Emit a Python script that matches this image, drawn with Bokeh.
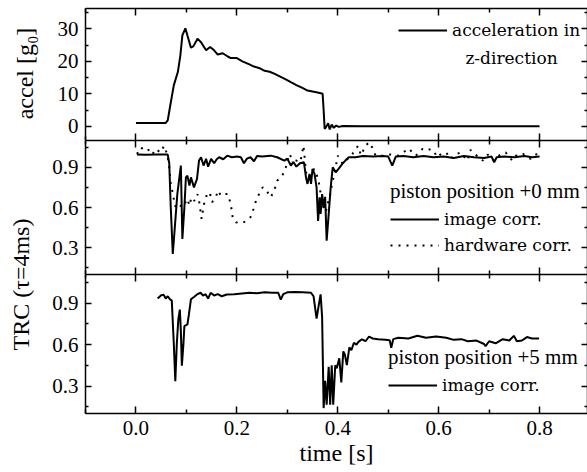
import math
from bokeh.plotting import figure
from bokeh.models import (FixedTicker, LinearAxis, Legend, LegendItem, Label,
                          PrintfTickFormatter, Range1d, CustomLabelingPolicy)
from bokeh.layouts import row, column
from bokeh.embed import file_html
from bokeh.resources import INLINE

FONT = "Liberation Serif"
PFONT = "serif"
LFONT = "DejaVu Serif"
LSIZE = "17px"

# ---------------- ticks ----------------
x_major = [0.0, 0.2, 0.4, 0.6, 0.8]
x_minor = [-0.1, 0.1, 0.3, 0.5, 0.7, 0.9]
acc_major = [0, 10, 20, 30]
acc_minor = [-5, 5, 15, 25, 35]
trc_major = [0.3, 0.6, 0.9]
trc_minor = [0.15, 0.45, 0.75, 1.05]

# ---------------- acceleration (panel 1) ----------------
t_acc = [0.000, 0.030, 0.059, 0.063, 0.068, 0.075, 0.083, 0.088, 0.092, 0.098,
         0.102, 0.109, 0.114, 0.122, 0.129, 0.139, 0.147, 0.155, 0.162, 0.172,
         0.182, 0.188, 0.200, 0.211, 0.226, 0.234, 0.245, 0.255, 0.265, 0.274,
         0.285, 0.295, 0.307, 0.318, 0.330, 0.340, 0.350, 0.360, 0.370, 0.372,
         0.374, 0.377, 0.381, 0.384, 0.388, 0.392, 0.397, 0.402, 0.410, 0.450,
         0.500, 0.600, 0.700, 0.800]
acc = [1.0, 1.0, 1.0, 1.8, 6.4, 12.6, 16.7, 21.8, 28.0, 30.2,
       28.0, 24.2, 24.7, 27.0, 25.9, 23.4, 24.4, 23.4, 22.1, 22.5,
       21.5, 21.0, 21.0, 20.0, 19.0, 18.4, 17.9, 17.1, 16.8, 16.2,
       15.4, 14.6, 13.6, 12.7, 11.8, 11.0, 10.7, 10.4, 10.0, 5.0,
       -0.8, -0.2, 0.9, -1.0, 0.5, -0.5, 0.2, -0.2, 0.1, 0.0,
       0.0, 0.0, 0.0, 0.0]

# ---------------- TRC, piston +0 mm (panel 2) ----------------
t_img0 = [0.002, 0.020, 0.040, 0.063, 0.066, 0.069, 0.073, 0.077, 0.082, 0.089,
          0.092, 0.096, 0.099, 0.102, 0.106, 0.109, 0.115, 0.121, 0.125, 0.129,
          0.134, 0.139, 0.143, 0.149, 0.155, 0.160, 0.165, 0.173, 0.181, 0.190,
          0.200, 0.208, 0.214, 0.220, 0.227, 0.234, 0.240, 0.250, 0.267, 0.280,
          0.294, 0.300, 0.307, 0.312, 0.318, 0.325, 0.333, 0.337, 0.340, 0.344,
          0.347, 0.350, 0.354, 0.358, 0.361, 0.364, 0.366, 0.369, 0.372, 0.375,
          0.378, 0.382, 0.386, 0.390, 0.396, 0.402, 0.409, 0.415, 0.422, 0.435,
          0.450, 0.470, 0.490, 0.500, 0.508, 0.515, 0.530, 0.550, 0.570, 0.590,
          0.610, 0.630, 0.650, 0.670, 0.690, 0.705, 0.710, 0.715, 0.730, 0.750,
          0.770, 0.785, 0.800]
trc_img0 = [0.995, 0.993, 0.996, 0.995, 0.930, 0.600, 0.254, 0.450, 0.700, 0.913,
            0.366, 0.600, 0.825, 0.838, 0.763, 0.825, 0.750, 0.813, 0.950, 0.975,
            0.913, 0.963, 0.905, 0.963, 0.930, 0.960, 0.975, 0.960, 0.987, 0.975,
            0.980, 0.975, 0.930, 0.965, 0.975, 0.945, 0.985, 0.980, 0.987, 0.975,
            0.950, 0.965, 0.913, 0.940, 0.905, 0.930, 0.937, 0.825, 0.776, 0.850,
            0.776, 0.888, 0.850, 0.750, 0.500, 0.676, 0.552, 0.700, 0.600, 0.680,
            0.353, 0.550, 0.750, 0.900, 0.863, 0.890, 0.925, 0.950, 0.975, 0.975,
            0.985, 0.980, 0.985, 0.980, 0.913, 0.980, 0.985, 0.975, 0.985, 0.975,
            0.980, 0.970, 0.985, 0.975, 0.970, 0.980, 0.937, 0.975, 0.980, 0.975,
            0.985, 0.975, 0.980]

t_hw0 = [0.002, 0.010, 0.018, 0.025, 0.032, 0.040, 0.048, 0.056, 0.062, 0.066,
         0.069, 0.072, 0.075, 0.077, 0.082, 0.086, 0.092, 0.097, 0.102, 0.106,
         0.110, 0.116, 0.122, 0.126, 0.130, 0.135, 0.141, 0.146, 0.151, 0.158,
         0.163, 0.168, 0.175, 0.182, 0.187, 0.190, 0.192, 0.198, 0.208, 0.218,
         0.228, 0.233, 0.238, 0.244, 0.251, 0.257, 0.261, 0.267, 0.274, 0.280,
         0.287, 0.294, 0.300, 0.304, 0.310, 0.318, 0.326, 0.332, 0.335, 0.337,
         0.343, 0.348, 0.353, 0.358, 0.363, 0.368, 0.372, 0.376, 0.381, 0.385,
         0.390, 0.394, 0.400, 0.404, 0.410, 0.416, 0.422, 0.429, 0.436, 0.440,
         0.446, 0.455, 0.462, 0.468, 0.475, 0.490, 0.505, 0.520, 0.535, 0.541,
         0.548, 0.555, 0.568, 0.575, 0.585, 0.592, 0.597, 0.605, 0.615, 0.624,
         0.633, 0.643, 0.657, 0.663, 0.673, 0.687, 0.697, 0.710, 0.723, 0.733,
         0.746, 0.755, 0.767, 0.782, 0.790, 0.799]
trc_hw0 = [1.000, 1.049, 1.020, 1.030, 0.995, 1.037, 1.010, 1.060, 0.995, 0.900,
           0.776, 0.726, 0.664, 0.614, 0.600, 0.589, 0.639, 0.630, 0.664, 0.614,
           0.676, 0.650, 0.700, 0.630, 0.515, 0.627, 0.700, 0.713, 0.640, 0.676,
           0.726, 0.689, 0.700, 0.700, 0.639, 0.577, 0.515, 0.490, 0.482, 0.497,
           0.532, 0.589, 0.651, 0.700, 0.750, 0.739, 0.713, 0.676, 0.726, 0.800,
           0.825, 0.863, 0.937, 1.000, 0.960, 0.950, 0.940, 1.062, 0.950, 0.863,
           0.820, 0.850, 0.888, 0.850, 0.776, 0.660, 0.600, 0.564, 0.639, 0.700,
           0.800, 0.863, 0.987, 0.960, 0.925, 0.945, 0.975, 1.000, 1.037, 1.060,
           0.990, 1.060, 1.087, 1.050, 0.987, 0.987, 0.995, 0.987, 1.025, 1.040,
           1.010, 0.987, 1.037, 1.025, 1.037, 1.010, 0.975, 1.000, 1.010, 0.963,
           0.995, 1.010, 0.950, 1.030, 0.995, 0.950, 0.995, 0.950, 1.000, 1.010,
           0.950, 0.995, 1.000, 0.963, 0.995, 1.000]

# ---------------- TRC, piston +5 mm (panel 3) ----------------
t_img5 = [0.043, 0.050, 0.055, 0.059, 0.063, 0.068, 0.071, 0.075, 0.078, 0.081,
          0.084, 0.087, 0.089, 0.091, 0.094, 0.096, 0.102, 0.105, 0.109, 0.115,
          0.121, 0.128, 0.133, 0.138, 0.143, 0.148, 0.155, 0.162, 0.170, 0.180,
          0.195, 0.210, 0.225, 0.240, 0.255, 0.270, 0.282, 0.287, 0.292, 0.300,
          0.315, 0.330, 0.347, 0.352, 0.358, 0.363, 0.366, 0.369, 0.372, 0.375,
          0.378, 0.382, 0.385, 0.388, 0.391, 0.395, 0.398, 0.403, 0.407, 0.411,
          0.414, 0.418, 0.423, 0.427, 0.432, 0.437, 0.441, 0.448, 0.455, 0.462,
          0.469, 0.480, 0.495, 0.503, 0.506, 0.510, 0.520, 0.540, 0.558, 0.575,
          0.595, 0.615, 0.630, 0.645, 0.658, 0.675, 0.690, 0.693, 0.700, 0.713,
          0.727, 0.740, 0.749, 0.755, 0.765, 0.775, 0.785, 0.799]
trc_img5 = [0.933, 0.957, 0.960, 0.933, 0.950, 0.925, 0.920, 0.609, 0.336, 0.609,
            0.784, 0.853, 0.700, 0.448, 0.600, 0.734, 0.746, 0.820, 0.928, 0.945,
            0.963, 0.975, 0.955, 0.965, 0.933, 0.975, 0.955, 0.965, 0.950, 0.963,
            0.965, 0.970, 0.975, 0.972, 0.978, 0.975, 0.975, 0.925, 0.965, 0.978,
            0.980, 0.978, 0.975, 0.950, 0.788, 0.900, 0.963, 0.800, 0.142, 0.340,
            0.166, 0.440, 0.166, 0.452, 0.166, 0.452, 0.430, 0.502, 0.328, 0.552,
            0.530, 0.452, 0.580, 0.560, 0.614, 0.600, 0.620, 0.639, 0.625, 0.659,
            0.645, 0.640, 0.635, 0.632, 0.577, 0.640, 0.650, 0.645, 0.664, 0.650,
            0.660, 0.650, 0.635, 0.640, 0.625, 0.630, 0.605, 0.590, 0.625, 0.610,
            0.640, 0.630, 0.664, 0.625, 0.630, 0.655, 0.645, 0.644]

# ---------------- layout geometry ----------------
LBL_W = 48
W = 539
LEFT = 37
TOP = 8
X_RANGE = Range1d(-0.1, 0.895)

AX_STYLE = dict(axis_line_width=1.5, axis_line_color="black",
                major_tick_line_width=1.5, minor_tick_line_width=1.5,
                major_tick_line_color="black", minor_tick_line_color="black",
                major_tick_out=0, minor_tick_out=0)

HIDE_LABELS = "for (const i of indices) { indices.unset(i) }\nreturn indices"


def make_axis(ticks, minor, labels, tick_in, minor_in, fmt="%.1f"):
    ax = LinearAxis(ticker=FixedTicker(ticks=ticks, minor_ticks=minor),
                    major_tick_in=tick_in, minor_tick_in=minor_in, **AX_STYLE)
    ax.formatter = PrintfTickFormatter(format=fmt)
    ax.major_label_text_font = PFONT
    ax.major_label_text_color = "black"
    if labels:
        ax.major_label_text_font_size = "21px"
        ax.major_label_standoff = 7
    else:
        ax.major_label_text_font_size = "0px"
        ax.major_label_standoff = 0
        ax.major_label_policy = CustomLabelingPolicy(code=HIDE_LABELS)
    return ax


def panel(height, yr, y_major, y_minor, yfmt, bottom_labels=False, top=0):
    p = figure(width=W, height=height, x_range=X_RANGE, y_range=Range1d(*yr),
               output_backend="svg", toolbar_location=None,
               x_axis_location=None, y_axis_location=None,
               min_border_left=LEFT, min_border_right=0,
               min_border_top=top, min_border_bottom=0)
    p.outline_line_color = None
    p.xgrid.visible = False
    p.ygrid.visible = False
    p.background_fill_color = "white"
    p.border_fill_color = "white"
    p.add_layout(make_axis(y_major, y_minor, True, 6, 3, yfmt), "left")
    p.add_layout(make_axis(y_major, y_minor, False, 6, 3, yfmt), "right")
    p.add_layout(make_axis(x_major, x_minor, False, 7, 4), "above")
    bx = make_axis(x_major, x_minor, bottom_labels, 7, 4)
    if bottom_labels:
        bx.axis_label = "time [s]"
        bx.axis_label_text_font = PFONT
        bx.axis_label_text_font_size = "24px"
        bx.axis_label_text_font_style = "normal"
        bx.axis_label_text_color = "black"
        bx.axis_label_standoff = 2
    p.add_layout(bx, "below")
    return p


LEG_STYLE = dict(border_line_color=None, background_fill_alpha=0, padding=0,
                 margin=0, spacing=0, glyph_width=49, glyph_height=26,
                 label_height=26, label_standoff=5,
                 label_text_font=LFONT, label_text_font_size=LSIZE,
                 label_text_font_style="normal", label_text_color="black",
                 title_text_font=PFONT, title_text_font_size="21px",
                 title_text_font_style="normal", title_text_color="black",
                 title_standoff=2)

# panel 1
p1 = panel(132 + TOP, (-4.4, 36.3), acc_major, acc_minor, "%d", top=TOP)
r_acc = p1.line(t_acc, acc, line_color="black", line_width=2)
p1.add_layout(Legend(items=[LegendItem(label="acceleration in", renderers=[r_acc])],
                     location=(313, 97), **LEG_STYLE))
p1.add_layout(Label(x=426, y=83, x_units="screen", y_units="screen",
                    text="z-direction", text_align="center", text_baseline="middle",
                    text_font=LFONT, text_font_size=LSIZE, text_color="black",
                    text_font_style="normal"))

# panel 2
p2 = panel(134, (0.1, 1.1), trc_major, trc_minor, "%.1f")
r_img0 = p2.line(t_img0, trc_img0, line_color="black", line_width=2)
r_hw0 = p2.line(t_hw0, trc_hw0, line_color="black", line_width=2, line_dash="2 6")
p2.add_layout(Legend(items=[LegendItem(label="image corr.", renderers=[r_img0]),
                            LegendItem(label="hardware corr.", renderers=[r_hw0])],
                     title="piston position +0 mm", location=(305, 16), **LEG_STYLE))

# panel 3
p3 = panel(194, (0.103, 1.107), trc_major, trc_minor, "%.1f", bottom_labels=True)
r_img5 = p3.line(t_img5, trc_img5, line_color="black", line_width=2)
p3.add_layout(Legend(items=[LegendItem(label="image corr.", renderers=[r_img5])],
                     title="piston position +5 mm", location=(303, 15), **LEG_STYLE))

# y-axis titles
TOTAL_H = 132 + TOP + 134 + 194
lab = figure(width=LBL_W, height=TOTAL_H, x_range=(0, 1), y_range=(0, 1),
             output_backend="svg", toolbar_location=None,
             x_axis_location=None, y_axis_location=None, min_border=0)
lab.outline_line_color = None
lab.xgrid.visible = False
lab.ygrid.visible = False
lab.add_layout(Label(x=24, y=TOTAL_H - 73, x_units="screen", y_units="screen",
                     text="accel [g\u2080]", angle=math.pi / 2, text_align="center",
                     text_baseline="middle", text_font=FONT, text_font_size="24px",
                     text_color="black"))
lab.add_layout(Label(x=20, y=TOTAL_H - 284, x_units="screen", y_units="screen",
                     text="TRC (\u03c4=4ms)", angle=math.pi / 2, text_align="center",
                     text_baseline="middle", text_font=FONT, text_font_size="24px",
                     text_color="black"))

layout = row(lab, column(p1, p2, p3))
open("out.html", "w").write(file_html(layout, INLINE))
